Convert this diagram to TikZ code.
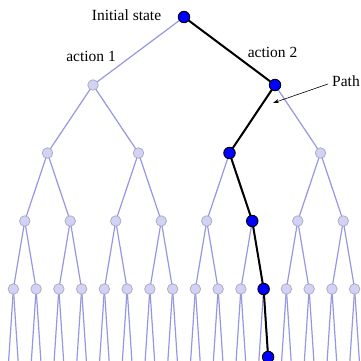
\documentclass[tikz,border=0pt]{standalone}
\usepackage{fontspec}
\setmainfont{Liberation Serif}
\usetikzlibrary{arrows.meta}
\definecolor{edgecol}{RGB}{150,150,226}
\definecolor{nodefill}{RGB}{210,210,248}
\definecolor{nodedraw}{RGB}{175,175,185}
\pgfdeclarelayer{bg}
\pgfsetlayers{bg,main}
\tikzset{
  treenode/.style={circle, inner sep=0pt, minimum size=10.5pt, fill=nodefill, draw=nodedraw, line width=0.8pt},
  pathnode/.style={circle, inner sep=0pt, minimum size=11.5pt, fill=blue, draw=black, line width=0.9pt},
  treeedge/.style={draw=edgecol, line width=1.2pt},
  pathedge/.style={draw=black, line width=2pt},
  lbl/.style={font=\fontsize{15.5}{18}\selectfont, inner sep=0pt},
}
\begin{document}
\begin{tikzpicture}[x=1pt,y=-1pt]
\useasboundingbox (0,0) rectangle (360,361);
\clip (0,0) rectangle (360,361);
% tree nodes, levels 0..4
\foreach \L/\p in {0/0,1/1,2/2,3/5,4/11} {
  \pgfmathtruncatemacro\N{2^\L-1}
  \foreach \i in {0,...,\N} {
    \pgfmathsetmacro\xx{2+(2*\i+1)*182/2^\L}
    \pgfmathsetmacro\yy{17+68*\L}
    \ifnum\i=\p\relax\def\sty{pathnode}\else\def\sty{treenode}\fi
    \node[\sty] (n\L-\i) at (\xx,\yy) {};
  }
}
% level 5 end points
\foreach \i in {0,...,31} {
  \pgfmathtruncatemacro\j{int(\i/2)}
  \pgfmathsetmacro\xx{2+(2*\j+1)*182/16 + (mod(\i,2)==0 ? -4.5 : 4.5)}
  \coordinate (c5-\i) at (\xx,357);
}
\node[pathnode] (n5-23) at (c5-23) {};
% edges
\begin{pgfonlayer}{bg}
\foreach \L in {1,...,4} {
  \pgfmathtruncatemacro\N{2^\L-1}
  \pgfmathtruncatemacro\M{\L-1}
  \foreach \i in {0,...,\N} {
    \pgfmathtruncatemacro\j{int(\i/2)}
    \draw[treeedge] (n\M-\j.center) -- (n\L-\i.center);
  }
}
\foreach \i in {0,...,31} {
  \pgfmathtruncatemacro\j{int(\i/2)}
  \draw[treeedge, shorten >=-15pt] (n4-\j.center) -- (c5-\i);
}
\draw[pathedge] (n0-0.center) -- (n1-1.center) -- (n2-2.center) -- (n3-5.center) -- (n4-11.center) -- (n5-23.center);
\end{pgfonlayer}
% labels
\node[lbl] (init) at (126.5,15) {Initial state};
\node[lbl] (act1) at (91,56) {action 1};
\node[lbl] (act2) at (272.5,52) {action 2};
\node[lbl, anchor=west] (pathlbl) at (332,81) {Path};
\coordinate (ptip) at (273,103);
\draw[-{Stealth[length=6pt,width=4pt]}, line width=0.6pt] ([shift={(-4,3)}]pathlbl.west) -- (ptip);
\end{tikzpicture}
\end{document}
